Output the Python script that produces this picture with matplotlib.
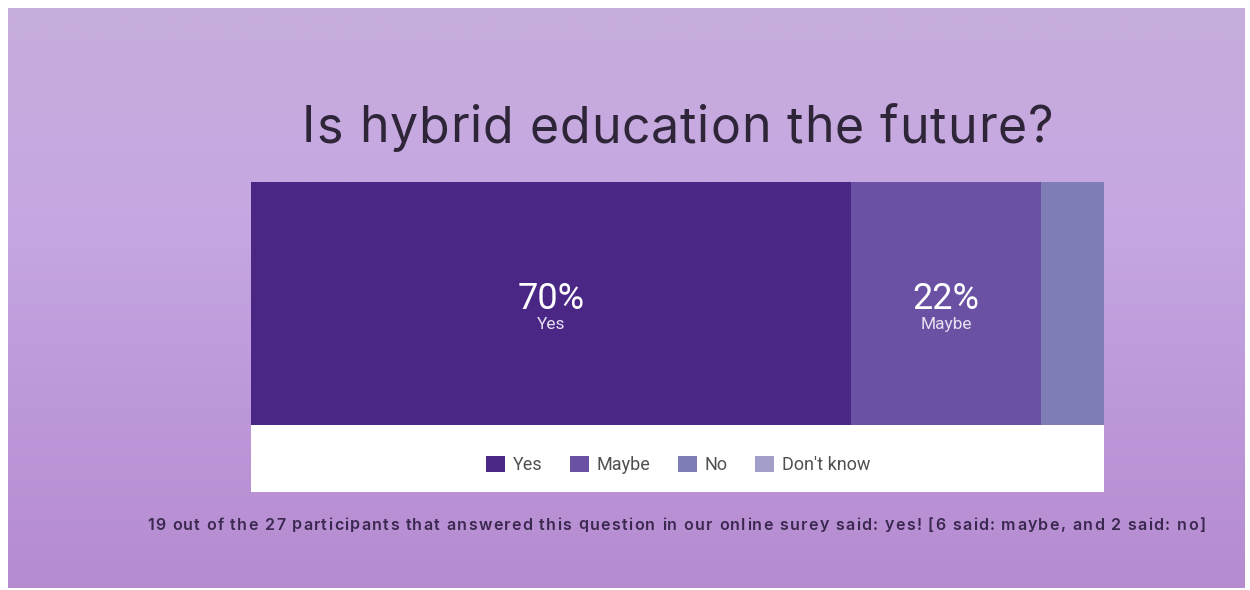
import numpy as np
import matplotlib
matplotlib.use("Agg")
import matplotlib.pyplot as plt
from matplotlib.patches import Patch, Rectangle
from matplotlib.colors import LinearSegmentedColormap

categories = ["Yes", "Maybe", "No", "Don't know"]
counts = [19, 6, 2, 0]
colors = ["#4B2785", "#6A51A3", "#7E7DB5", "#A29FCB"]
title = "Is hybrid education the future?"
caption = ("19 out of the 27 participants that answered this question in our online "
           "surey said: yes! [6 said: maybe, and 2 said: no]")

W, H = 1250, 590
fig = plt.figure(figsize=(W / 100, H / 100), dpi=100)
fig.patch.set_facecolor("white")

# background gradient panel
bg = fig.add_axes([8 / W, 1 - 588 / H, (1245 - 8) / W, (588 - 8) / H])
cmap = LinearSegmentedColormap.from_list(
    "bg", [(0, "#C6AEDB"), (0.35, "#C6A7E3"), (1, "#B58BD0")])
grad = np.linspace(0, 1, 256).reshape(-1, 1)
bg.imshow(grad, aspect="auto", cmap=cmap, extent=[0, 1, 1, 0])
bg.set_axis_off()

renderer = fig.canvas.get_renderer()


def spaced_text(s, x0, x1, y, **kw):
    probe = fig.text(0, 0, "|", **kw)
    wbar = probe.get_window_extent(renderer).width
    probe.remove()

    def width_of(sub):
        t = fig.text(0, 0, sub + "|", **kw)
        w = t.get_window_extent(renderer).width - wbar
        t.remove()
        return w

    base = width_of(s)
    spacing = (x1 - x0 - base) / (len(s) - 1)
    for i, ch in enumerate(s):
        if ch == " ":
            continue
        x = x0 + width_of(s[:i]) + i * spacing
        fig.text(x / W, 1 - y / H, ch, ha="left", va="center", **kw)


# title
spaced_text(title, 302, 1053, 129, fontsize=36, color="#2F2539", family="Inter")

# white legend area
fig.patches.append(Rectangle((251 / W, 1 - 492 / H), 853 / W, 67 / H,
                             transform=fig.transFigure, facecolor="white",
                             edgecolor="none", zorder=1))

# stacked bar
total = sum(counts)
pct = [c / total * 100 for c in counts]
ax = fig.add_axes([251 / W, 1 - 425 / H, 853 / W, 243 / H])
left = 0
for cat, p, col in zip(categories, pct, colors):
    ax.barh(0, p, left=left, height=1, color=col, edgecolor="none")
    if p >= 15:
        cx = left + p / 2
        ax.text(cx, 0.02, f"{round(p)}%", ha="center", va="center",
                fontsize=26, color="white", family="Roboto")
        ax.text(cx, -0.085, cat, ha="center", va="center",
                fontsize=12.5, color="#E6E0F2", family="Roboto")
    left += p
ax.set_xlim(0, 100)
ax.set_ylim(-0.5, 0.5)
ax.set_axis_off()

# legend
handles = [Patch(facecolor=c, edgecolor="none", label=l) for l, c in zip(categories, colors)]
leg = fig.legend(handles=handles, loc="center", bbox_to_anchor=(678 / W, 1 - 465 / H),
                 ncol=4, frameon=False, handlelength=1.05, handleheight=1.05,
                 handletextpad=0.45, columnspacing=1.5, prop={"family": "Roboto", "size": 13})
for t in leg.get_texts():
    t.set_color("#505050")

# caption with letter spacing
spaced_text(caption, 147, 1205, 525, fontsize=11.5, color="#3B2850",
            family="Inter", weight="semibold")

fig.savefig("out.png", dpi=100)
